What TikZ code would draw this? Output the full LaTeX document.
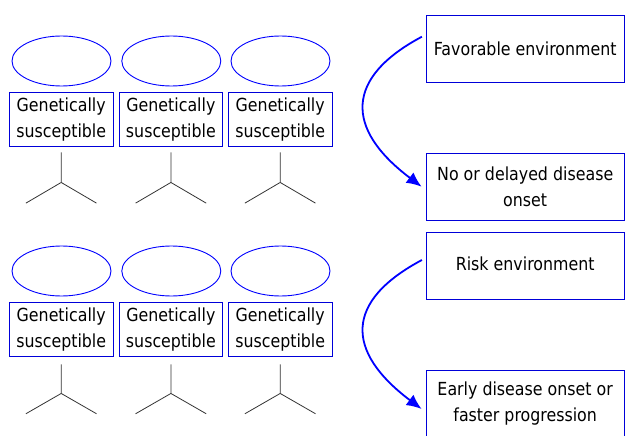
\documentclass[tikz,border=0pt]{standalone}
\usepackage{fontspec}
\setmainfont{DejaVu Sans}[FakeStretch=0.88]
\usetikzlibrary{arrows.meta,shapes.geometric}
\begin{document}
\begin{tikzpicture}[x=1pt,y=-1pt,
  gene/.style={draw=blue,line width=0.9pt,ellipse,minimum width=99pt,minimum height=50pt,inner sep=0pt},
  genebox/.style={draw=blue!85!black,line width=0.9pt,rectangle,minimum width=103.7pt,minimum height=54pt,inner sep=0pt,align=center,font=\fontsize{18}{26}\selectfont},
  envbox/.style={draw=blue!85!black,line width=0.9pt,rectangle,minimum width=198.3pt,minimum height=66.7pt,inner sep=0pt,align=center,font=\fontsize{18}{26}\selectfont},
  stick/.style={draw=black!80,line width=0.8pt},
  arr/.style={draw=blue,line width=1.8pt,-{Latex[length=15pt,width=13pt]}}]
\useasboundingbox (0,0) rectangle (625,436);
% top row
\node[gene] (e1) at (61.5,61) {};
\node[gene] (e2) at (171.3,61) {};
\node[gene] (e3) at (280.5,61) {};
\node[genebox] (g1) at (61.2,119.7) {Genetically\\susceptible};
\node[genebox] (g2) at (170.9,119.7) {Genetically\\susceptible};
\node[genebox] (g3) at (280.2,119.7) {Genetically\\susceptible};
% bottom row
\node[gene] (e4) at (61.5,271) {};
\node[gene] (e5) at (171.3,271) {};
\node[gene] (e6) at (280.5,271) {};
\node[genebox] (g4) at (61.2,329.7) {Genetically\\susceptible};
\node[genebox] (g5) at (170.9,329.7) {Genetically\\susceptible};
\node[genebox] (g6) at (280.2,329.7) {Genetically\\susceptible};
% stick figures
\foreach \b in {g1,g2,g3}{
  \draw[stick] ([yshift=-5.3pt]\b.south) -- ++(0,30) -- ++(-35.3,20.7) ++(35.3,-20.7) -- ++(35.3,20.7);
}
\foreach \b in {g4,g5,g6}{
  \draw[stick] ([yshift=-7.3pt]\b.south) -- ++(0,29) -- ++(-35.3,20.3) ++(35.3,-20.3) -- ++(35.3,20.3);
}
% environment boxes
\node[envbox] (fav) at (525.2,48.7) {Favorable environment};
\node[envbox] (nod) at (525.2,186.7) {No or delayed disease\\onset};
\node[envbox] (risk) at (525.2,266) {\raisebox{5pt}{Risk environment}};
\node[envbox] (early) at (525.2,404) {Early disease onset or\\faster progression};
% arrows
\draw[arr] ([xshift=-3.7pt,yshift=12pt]fav.west) .. controls +(-77,41) and +(-77,-58) .. ([xshift=-4pt]nod.west);
\draw[arr] ([xshift=-3.7pt,yshift=6pt]risk.west) .. controls +(-77,41) and +(-77,-58) .. ([xshift=-4pt,yshift=-5pt]early.west);
\end{tikzpicture}
\end{document}
